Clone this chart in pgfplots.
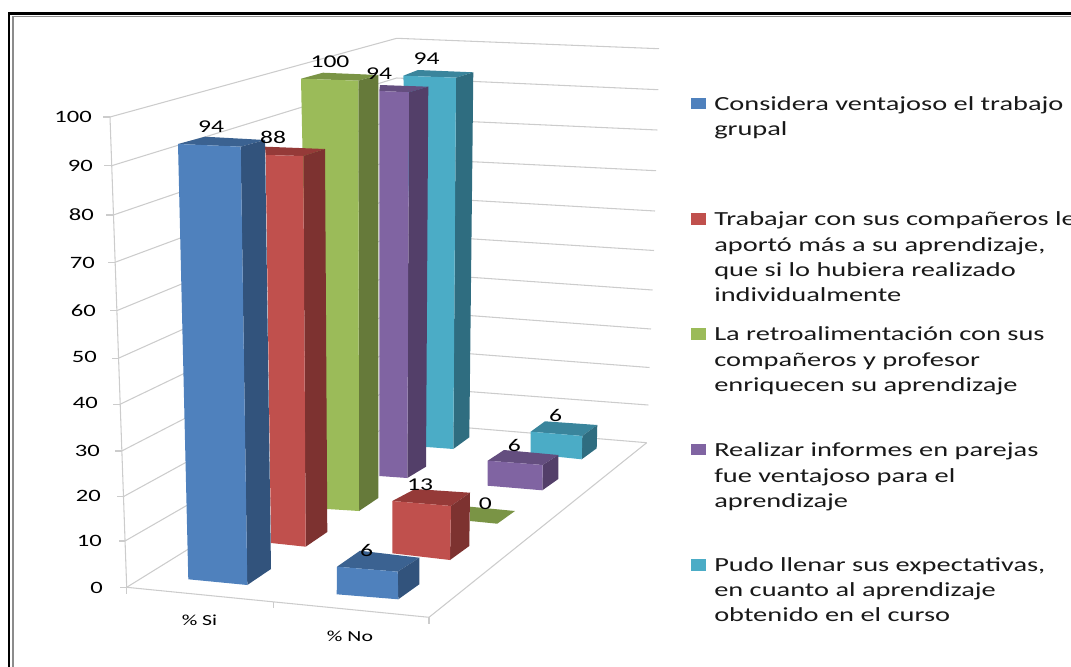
\documentclass[border=0pt]{standalone}
\usepackage{fontspec}
\usepackage{pgfplots}
\pgfplotsset{compat=1.18}
\setmainfont{Carlito}
\newfontfamily\wf[FakeStretch=1.42]{Carlito}
\definecolor{bF}{HTML}{4F81BD}\definecolor{bS}{HTML}{32537C}\definecolor{bT}{HTML}{3B6291}
\definecolor{rF}{HTML}{C0504D}\definecolor{rS}{HTML}{7D3230}\definecolor{rT}{HTML}{953A38}
\definecolor{gF}{HTML}{9BBB59}\definecolor{gS}{HTML}{667A3A}\definecolor{gT}{HTML}{7A9445}
\definecolor{pF}{HTML}{8064A2}\definecolor{pS}{HTML}{533F69}\definecolor{pT}{HTML}{644E7F}
\definecolor{tF}{HTML}{4BACC6}\definecolor{tS}{HTML}{2F6D80}\definecolor{tT}{HTML}{3A859C}
\definecolor{gridc}{HTML}{CCCCCC}
\newcommand\face[2]{\addplot[fill=#1,draw=none,forget plot] coordinates {#2} -- cycle;}
\newcommand\gline[1]{\addplot[color=gridc,line width=0.8pt,forget plot] coordinates {#1};}
\newcommand\cube[4]{\face{#1T}{#2}\face{#1S}{#3}\face{#1F}{#4}}
\newcommand\leg[2]{\node[anchor=base west,inner sep=0pt,font=\wf\fontsize{15}{15}\selectfont,text=black!90] at (axis cs:714,#1) {#2};}
\newcommand\dl[3]{\node[inner sep=0pt,font=\wf\fontsize{13.5}{13.5}\selectfont] at (axis cs:#1,#2) {#3};}
\newcommand\yl[3]{\node[anchor=east,inner sep=0pt,font=\wf\fontsize{13}{13}\selectfont] at (axis cs:#1,#2) {#3};}
\begin{document}
\begin{tikzpicture}
\path[use as bounding box,clip] (0,0) rectangle (803.25pt,500.25pt);
\begin{axis}[at={(0,0)},anchor=south west,scale only axis,width=803.25pt,height=500.25pt,
  xmin=0,xmax=1071,ymin=0,ymax=667,y dir=reverse,hide axis,clip=false]
% frame
\addplot[color=black,line width=1.6pt,forget plot] coordinates {(9,680)(9,13.5)(1080,13.5)};
\addplot[color=black!45,line width=1pt,forget plot] coordinates {(13,680)(13,16.5)(1080,16.5)};
% walls
\gline{(110,117)(396.7,38.3)(659,48.7)}
\gline{(111.7,165.7)(396.6,78)(658.3,89.7)}
\gline{(113.3,215)(396.3,118.3)(657.3,130)}
\gline{(115,262.3)(396,158)(656,170.7)}
\gline{(116.7,310.7)(395.8,196)(655,211)}
\gline{(118.3,358.3)(395.5,234)(654,250.5)}
\gline{(120,404.3)(395.2,272)(652.5,290)}
\gline{(121.7,451)(395,310)(651,329)}
\gline{(123.3,496.7)(394.7,348)(649.5,367.5)}
\gline{(125,541)(394.4,386)(648.3,405)}
\gline{(126.7,587.3)(394,421.7)(646.7,442.7)}
% axes and tick marks
\gline{(110,117)(126.7,587.3)}
\gline{(126.7,587.3)(429,617.3)(646.7,442.7)}
\gline{(103,117)(110,117)}\gline{(104,165.7)(111.7,165.7)}\gline{(106,215)(113.3,215)}
\gline{(108,262.3)(115,262.3)}\gline{(110,310.7)(116.7,310.7)}\gline{(112,358.3)(118.3,358.3)}
\gline{(113,404.3)(120,404.3)}\gline{(115,451)(121.7,451)}\gline{(117,496.7)(123.3,496.7)}
\gline{(119,541)(125,541)}\gline{(120,587.3)(126.7,587.3)}
\gline{(126.7,587.3)(126.7,594)}\gline{(273.4,602)(273.4,607.5)}\gline{(429,617.3)(429,624)}
% % Si series, back to front
\cube{t}{(403.3,75.7)(418,70)(473.3,72.3)(456,77.7)}{(456,77.7)(473.3,72.3)(469.3,437.3)(453.3,449)}{(403.3,75.7)(456,77.7)(453.3,449)(426.7,447)(420,447)}
\cube{p}{(379.3,91)(380,85)(428.3,86.7)(409,92.3)}{(409,92.3)(428.3,86.7)(426,466.7)(407.3,478)}{(379.3,91)(409,92.3)(407.3,478)(379.3,476)}
\cube{g}{(301,78.7)(323,72.7)(378.3,75)(358.3,80.7)}{(358.3,80.7)(378.3,75)(378.3,498)(359,511)}{(301,78.7)(358.3,80.7)(359,511)(327.3,509)(310,508)}
\cube{r}{(265.7,155)(265,146.7)(325,149)(303.3,156)}{(303.3,156)(325,149)(327.3,532)(305.7,546.7)}{(265.7,155)(303.3,156)(305.7,546.7)(271,543)}
\cube{b}{(178,144)(205,136.7)(265,140)(240.7,146.7)}{(240.7,146.7)(265,140)(271,569)(247.3,585)}{(178,144)(240.7,146.7)(247.3,585)(188.3,579.3)}
% % No series, back to front
\cube{t}{(530.7,431.7)(545,421.3)(597.3,425)(582.3,436)}{(582.3,436)(597.3,425)(596.7,448.3)(581.7,459.3)}{(530.7,431.7)(582.3,436)(581.7,459.3)(530.7,454)}
\cube{p}{(487.7,460.7)(504,450)(558.3,455)(542.7,465)}{(542.7,465)(558.3,455)(558.3,479)(542.3,490.3)}{(487.7,460.7)(542.7,465)(542.3,490.3)(487.7,485.7)}
\face{gT}{(470,506.7)(515,511)(497.3,523.7)(470,521)}
\cube{r}{(392.3,501)(415,489)(470,492.7)(451,506)}{(451,506)(470,492.7)(469.3,546)(450,560)}{(392.3,501)(451,506)(450,560)(392.3,553.3)}
\cube{b}{(337,566.7)(360,550.7)(419.3,557.7)(397.7,571.7)}{(397.7,571.7)(419.3,557.7)(419.3,584.3)(398.3,599.3)}{(337,566.7)(397.7,571.7)(398.3,599.3)(336.7,594.3)}
% data labels
\dl{211}{127}{94}\dl{273}{137}{88}\dl{330}{62}{100}\dl{379}{74}{94}\dl{426.7}{59}{94}
\dl{366.7}{550}{6}\dl{420}{485}{13}\dl{485.3}{503.5}{0}\dl{514.3}{445}{6}\dl{555.7}{415}{6}
% value axis labels
\yl{92}{117}{100}\yl{93}{166}{90}\yl{94}{215}{80}\yl{95}{263}{70}\yl{96}{311}{60}
\yl{97}{357}{50}\yl{98}{403}{40}\yl{100}{451}{30}\yl{101}{496}{20}\yl{102}{541}{10}\yl{103}{588}{0}
% category labels
\node[inner sep=0pt,font=\wf\fontsize{11.5}{11.5}\selectfont] at (axis cs:199.5,620) {\% Si};
\node[inner sep=0pt,font=\wf\fontsize{11.5}{11.5}\selectfont] at (axis cs:350,636) {\% No};
% legend
\face{bF}{(691,98.3)(706,98.3)(706,109)(691,109)}
\face{rF}{(691,213.3)(706,213.3)(706,225)(691,225)}
\face{gF}{(691,328)(706,328)(706,340)(691,340)}
\face{pF}{(691,444.3)(706,444.3)(706,455)(691,455)}
\face{tF}{(691,559)(706,559)(706,571)(691,571)}
\leg{110.7}{Considera ventajoso el trabajo}
\leg{136}{grupal}
\leg{225}{Trabajar con sus compañeros le}
\leg{251.7}{aportó más a su aprendizaje,}
\leg{276}{que si lo hubiera realizado}
\leg{301.7}{individualmente}
\leg{340}{La retroalimentación con sus}
\leg{366.7}{compañeros y profesor}
\leg{391}{enriquecen su aprendizaje}
\leg{456}{Realizar informes en parejas}
\leg{482}{fue ventajoso para el}
\leg{507.3}{aprendizaje}
\leg{571}{Pudo llenar sus expectativas,}
\leg{596.7}{en cuanto al aprendizaje}
\leg{621.7}{obtenido en el curso}
\end{axis}
\end{tikzpicture}
\end{document}
